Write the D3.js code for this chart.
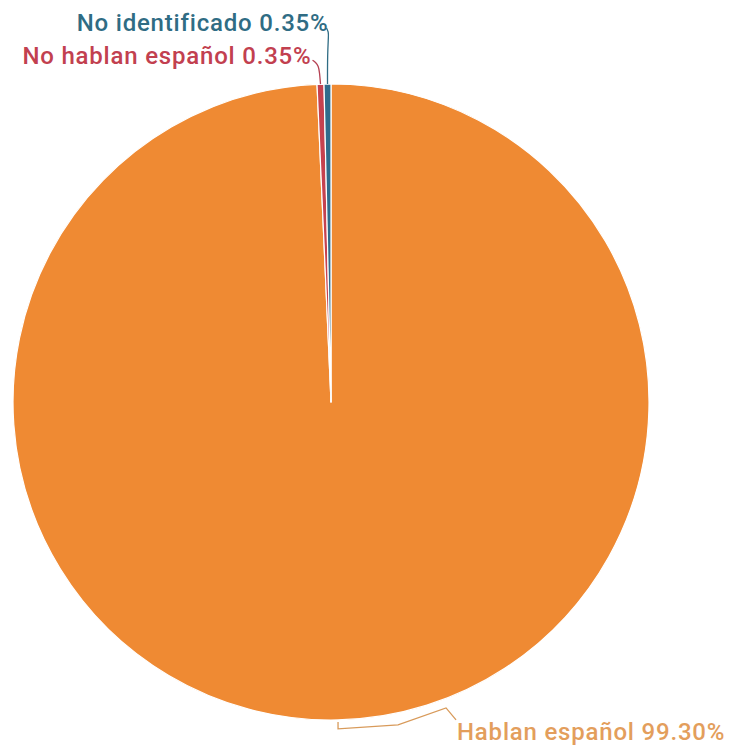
<!DOCTYPE html>
<html><head><meta charset="utf-8">
<script src="https://cdn.jsdelivr.net/npm/d3@7"></script>
<style>body{margin:0;background:#fff}svg{display:block}text{font-family:Roboto,"Noto Sans",sans-serif;font-weight:500;letter-spacing:0.8px}</style>
</head><body><svg id="c" width="735" height="753"></svg>
<script>
const categories = ["Hablan español", "No hablan español", "No identificado"];
const values = [99.30, 0.35, 0.35];
const labels = ["Hablan español 99.30%", "No hablan español 0.35%", "No identificado 0.35%"];
const fillColors = ["#ef8a33", "#c6424f", "#2f6c8c"];
const textColors = ["#e39e5c", "#c2404f", "#2f6c84"];

const svg = d3.select("#c");
const cx = 331, cy = 402, r = 318;
const g = svg.append("g").attr("transform", `translate(${cx},${cy})`);
const pie = d3.pie().sort(null).value(d => d)(values);
const arc = d3.arc().innerRadius(0).outerRadius(r);
g.selectAll("path.s").data(pie).join("path").attr("class","s")
  .attr("d", arc).attr("fill", (d,i) => fillColors[i])
  .attr("stroke", "#fff").attr("stroke-width", 1.2).attr("stroke-linejoin","round");

const mid = d => (d.startAngle + d.endAngle) / 2;
const pt = (a, rr) => [Math.sin(a) * rr, -Math.cos(a) * rr];
const line = d3.line().curve(d3.curveBasis);
const fs = 24;

// Hablan español
{
  const d = pie[0], a = mid(d);
  const p0 = pt(a, r + 2);
  g.append("path").attr("d", d3.line()([p0, [p0[0], p0[1] + 7], [p0[0]+60, p0[1]+3], [p0[0]+108, p0[1]-14], [p0[0]+118, p0[1]-2]]))
    .attr("fill", "none").attr("stroke", "#d89a5a").attr("stroke-width", 1.3);
  g.append("text").attr("x", p0[0] + 119).attr("y", p0[1] + 18).attr("font-size", fs)
    .attr("fill", textColors[0]).text(labels[0]);
}
// No hablan español
{
  const d = pie[1], a = mid(d);
  const p0 = pt(a, r);
  g.append("path").attr("d", line([p0, [p0[0]-1, p0[1]-12], [p0[0]-2, p0[1]-18], [p0[0]-5, p0[1]-22], [p0[0]-8, p0[1]-24]]))
    .attr("fill", "none").attr("stroke", "#b54052").attr("stroke-width", 1.3);
  g.append("text").attr("x", p0[0] - 9).attr("y", p0[1] - 20).attr("text-anchor", "end").attr("font-size", fs)
    .attr("fill", textColors[1]).text(labels[1]);
}
// No identificado
{
  const d = pie[2], a = mid(d);
  const p0 = pt(a, r);
  g.append("path").attr("d", line([p0, [p0[0], p0[1]-30], [p0[0]+1, p0[1]-48], [p0[0]+1, p0[1]-52], [p0[0]-1, p0[1]-56]]))
    .attr("fill", "none").attr("stroke", "#2f6c84").attr("stroke-width", 1.3);
  g.append("text").attr("x", p0[0] + 1).attr("y", p0[1] - 53).attr("text-anchor", "end").attr("font-size", fs)
    .attr("fill", textColors[2]).text(labels[2]);
}
</script></body></html>
